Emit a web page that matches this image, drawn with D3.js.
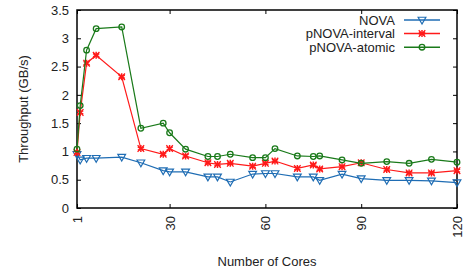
<!DOCTYPE html>
<html>
<head>
<meta charset="utf-8">
<script src="https://cdnjs.cloudflare.com/ajax/libs/d3/7.8.5/d3.min.js"></script>
<style>
  body { margin: 0; background: #fff; }
  text { font-family: "Liberation Sans", Arial, sans-serif; fill: #222; }
</style>
</head>
<body>
<script>
// Width and height
var w = 466;
var h = 273;

// data
var cores = [1, 2, 4, 7, 15, 21, 28, 30, 35, 42, 45, 49, 56, 60, 63, 70, 75, 77, 84, 90, 98, 105, 112, 120];
var nova =     [0.95, 0.85, 0.88, 0.88, 0.90, 0.80, 0.66, 0.64, 0.64, 0.55, 0.55, 0.46, 0.60, 0.61, 0.61, 0.55, 0.55, 0.49, 0.60, 0.52, 0.49, 0.49, 0.48, 0.45];
var interval = [0.98, 1.69, 2.56, 2.70, 2.32, 1.05, 0.95, 1.05, 0.92, 0.80, 0.77, 0.79, 0.74, 0.79, 0.83, 0.70, 0.76, 0.69, 0.73, 0.80, 0.68, 0.62, 0.62, 0.66];
var atomic =   [1.04, 1.81, 2.79, 3.17, 3.20, 1.41, 1.50, 1.33, 1.04, 0.91, 0.91, 0.95, 0.89, 0.89, 1.05, 0.92, 0.91, 0.92, 0.85, 0.79, 0.82, 0.79, 0.86, 0.81];
var seriesNames = ["NOVA", "pNOVA-interval", "pNOVA-atomic"];
var xTicks = [1, 30, 60, 90, 120];
var yTicks = [0, 0.5, 1, 1.5, 2, 2.5, 3, 3.5];

var colors = ["#1f6db4", "#ff1a1a", "#1a7a1a"];
var shapes = ["tri", "star", "circle"];
var allSeries = [nova, interval, atomic];

// plot box (window.top is read-only, so no "top" here)
var pLeft = 77, pRight = 457, pTop = 10, pBottom = 208;

var x = d3.scaleLinear().domain([1, 120]).range([pLeft, pRight]);
var y = d3.scaleLinear().domain([0, 3.5]).range([pBottom, pTop]);

var svg = d3.select("body")
            .append("svg")
            .attr("width", w)
            .attr("height", h);

// axes, ticks pointing inward like gnuplot
svg.append("g")
    .attr("transform", "translate(0," + pBottom + ")")
    .call(d3.axisBottom(x).tickValues(xTicks).tickSizeInner(-4).tickSizeOuter(0).tickFormat(d3.format("d")))
    .call(g => g.select(".domain").remove())
    .call(g => g.selectAll("text")
        .attr("transform", "rotate(-90)")
        .attr("x", -8).attr("y", 0).attr("dy", "0.35em")
        .attr("text-anchor", "end")
        .style("font-size", "13px"));

svg.append("g")
    .attr("transform", "translate(0," + pTop + ")")
    .call(d3.axisTop(x).tickValues(xTicks).tickSizeInner(-4).tickSizeOuter(0).tickFormat(""))
    .call(g => g.select(".domain").remove());

svg.append("g")
    .attr("transform", "translate(" + pLeft + ",0)")
    .call(d3.axisLeft(y).tickValues(yTicks).tickSizeInner(-4).tickSizeOuter(0).tickFormat(d3.format("")))
    .call(g => g.select(".domain").remove())
    .call(g => g.selectAll("text").attr("x", -8).style("font-size", "13px"));

svg.append("g")
    .attr("transform", "translate(" + pRight + ",0)")
    .call(d3.axisRight(y).tickValues(yTicks).tickSizeInner(-4).tickSizeOuter(0).tickFormat(""))
    .call(g => g.select(".domain").remove());

svg.selectAll(".tick line").attr("stroke", "#000");
svg.selectAll(".tick text").attr("fill", "#222");

svg.append("rect")
    .attr("x", pLeft).attr("y", pTop)
    .attr("width", pRight - pLeft).attr("height", pBottom - pTop)
    .attr("fill", "none").attr("stroke", "#000").attr("stroke-width", 1.5);

// axis titles
svg.append("text")
    .attr("x", (pLeft + pRight) / 2).attr("y", 266)
    .attr("text-anchor", "middle")
    .style("font-size", "13px")
    .text("Number of Cores");

svg.append("text")
    .attr("transform", "translate(28," + (pTop + pBottom) / 2 + ") rotate(-90)")
    .attr("text-anchor", "middle")
    .style("font-size", "13px")
    .text("Throughput (GB/s)");

function drawMarker(g, shape, color, px, py) {
    if (shape === "tri") {
        g.append("path")
            .attr("d", d3.symbol().type(d3.symbolTriangle).size(26)())
            .attr("transform", "translate(" + px + "," + (py - 0.5) + ") rotate(180)")
            .attr("fill", "none").attr("stroke", color).attr("stroke-width", 1.2);
    } else if (shape === "star") {
        g.append("path")
            .attr("d", d3.symbol().type(d3.symbolAsterisk).size(34)())
            .attr("transform", "translate(" + px + "," + py + ")")
            .attr("fill", "none").attr("stroke", color).attr("stroke-width", 1.5);
        g.append("path")
            .attr("d", d3.symbol().type(d3.symbolX).size(30)())
            .attr("transform", "translate(" + px + "," + py + ")")
            .attr("fill", "none").attr("stroke", color).attr("stroke-width", 1.3);
    } else {
        g.append("circle")
            .attr("cx", px).attr("cy", py).attr("r", 2.8)
            .attr("fill", "none").attr("stroke", color).attr("stroke-width", 1.3);
    }
}

var line = d3.line()
    .x(d => x(d[0]))
    .y(d => y(d[1]));

allSeries.forEach((vals, i) => {
    var g = svg.append("g").attr("class", "series");
    var pts = cores.map((c, j) => [c, vals[j]]);
    g.append("path")
        .datum(pts)
        .attr("d", line)
        .attr("fill", "none")
        .attr("stroke", colors[i])
        .attr("stroke-width", 1.2);
    pts.forEach(p => drawMarker(g, shapes[i], colors[i], x(p[0]), y(p[1])));
});

// legend
var legend = svg.append("g").attr("class", "legend");
seriesNames.forEach((name, i) => {
    var ly = 20 + i * 13.6;
    legend.append("text")
        .attr("x", 395).attr("y", ly).attr("dy", "0.35em")
        .attr("text-anchor", "end")
        .style("font-size", "13px")
        .text(name);
    legend.append("line")
        .attr("x1", 404).attr("x2", 440)
        .attr("y1", ly).attr("y2", ly)
        .attr("stroke", colors[i]).attr("stroke-width", 1.5);
    drawMarker(legend, shapes[i], colors[i], 422, ly);
});
</script>
</body>
</html>
